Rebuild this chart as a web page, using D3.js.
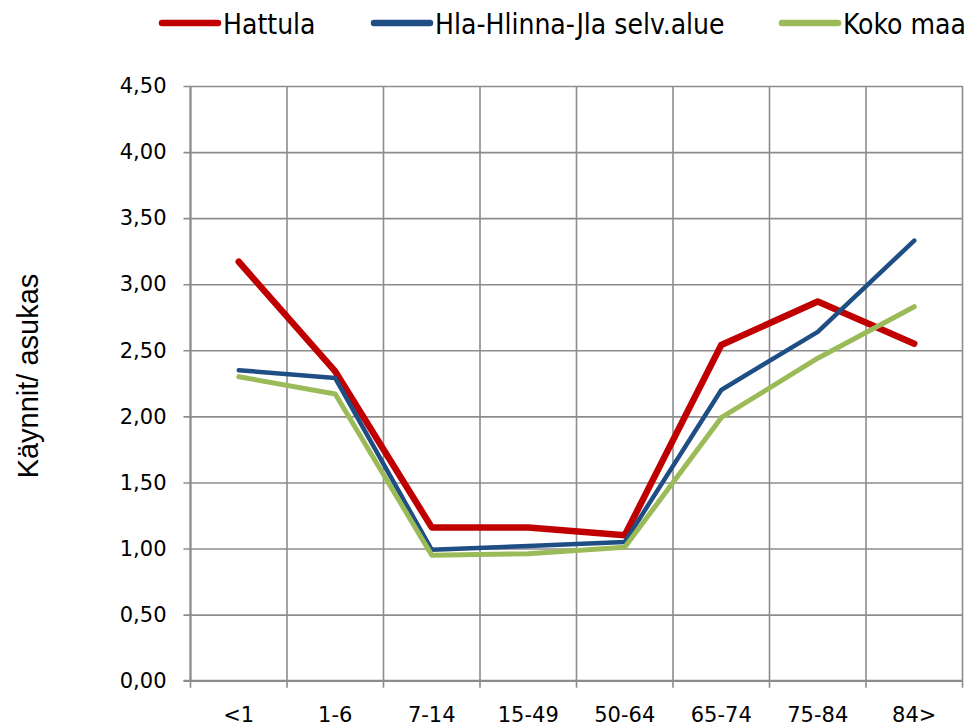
<!DOCTYPE html>
<html>
<head>
<meta charset="utf-8">
<script src="https://cdn.jsdelivr.net/npm/d3@7"></script>
<style>
  body { margin: 0; background: #fff; }
  svg { display: block; }
</style>
</head>
<body>
<div id="chart"></div>
<script>
// ---------------- Data ----------------
const categories = ["<1", "1-6", "7-14", "15-49", "50-64", "65-74", "75-84", "84>"];
const hattula = [3.17, 2.34, 1.16, 1.16, 1.10, 2.54, 2.87, 2.55];
const hlaHlinnaJla = [2.35, 2.29, 0.99, 1.02, 1.05, 2.20, 2.64, 3.33];
const kokoMaa = [2.30, 2.17, 0.95, 0.96, 1.01, 1.99, 2.44, 2.83];
const seriesNames = ["Hattula", "Hla-Hlinna-Jla selv.alue", "Koko maa"];
const yTicks = [0, 0.5, 1, 1.5, 2, 2.5, 3, 3.5, 4, 4.5];

const series = [
    { name: seriesNames[0], values: hattula, color: "#C00000", width: 6.5 },
    { name: seriesNames[1], values: hlaHlinnaJla, color: "#1F4E85", width: 4.5 },
    { name: seriesNames[2], values: kokoMaa, color: "#9BBB59", width: 5 }
];

// ---------------- Layout ----------------
const width = 974, height = 726;
const plot = { left: 190.5, right: 962.5, top: 86, bottom: 680.7 };
const gridColor = "#8c8c8c";

const svg = d3.select("#chart").append("svg")
    .attr("width", width)
    .attr("height", height);

const x = d3.scaleBand().domain(categories).range([plot.left, plot.right]).padding(0);
const y = d3.scaleLinear().domain([0, 4.5]).range([plot.bottom, plot.top]);

// Horizontal grid lines + y axis
const yAxis = d3.axisLeft(y)
    .tickValues(yTicks)
    .tickSize(plot.left - plot.right)
    .tickPadding(24)
    .tickFormat(d => d3.format(".2f")(d).replace(".", ","));

const gy = svg.append("g")
    .attr("transform", `translate(${plot.right},0)`)
    .call(yAxis);
gy.select(".domain").remove();
gy.selectAll(".tick line").attr("stroke", gridColor).attr("stroke-width", 1.6)
    .attr("x1", 0).attr("x2", plot.left - plot.right - 7);
gy.selectAll(".tick text")
    .attr("x", plot.left - plot.right - 24)
    .attr("fill", "#000")
    .style("font-family", "'DejaVu Sans', sans-serif")
    .style("font-size", "21px");

// Vertical grid lines at category boundaries
const boundaries = categories.map(c => x(c)).concat([plot.right]);
svg.append("g").selectAll("line")
    .data(boundaries)
    .join("line")
    .attr("x1", d => d).attr("x2", d => d)
    .attr("y1", plot.top).attr("y2", plot.bottom + 7)
    .attr("stroke", gridColor)
    .attr("stroke-width", 1.6);

// x axis labels
const xAxis = d3.axisBottom(x).tickSize(0).tickPadding(26);
const gx = svg.append("g")
    .attr("transform", `translate(0,${plot.bottom})`)
    .call(xAxis);
gx.select(".domain").remove();
gx.selectAll(".tick text")
    .attr("fill", "#000")
    .style("font-family", "'DejaVu Sans', sans-serif")
    .style("font-size", "21px");

// Axis lines
svg.append("line")
    .attr("x1", plot.left).attr("x2", plot.left)
    .attr("y1", plot.top).attr("y2", plot.bottom)
    .attr("stroke", gridColor).attr("stroke-width", 2);
svg.append("line")
    .attr("x1", plot.left - 7).attr("x2", plot.right)
    .attr("y1", plot.bottom).attr("y2", plot.bottom)
    .attr("stroke", gridColor).attr("stroke-width", 2);

// ---------------- Lines ----------------
const line = d3.line()
    .x((d, i) => x(categories[i]) + x.bandwidth() / 2)
    .y(d => y(d));

svg.append("g").selectAll("path")
    .data(series)
    .join("path")
    .attr("fill", "none")
    .attr("stroke", d => d.color)
    .attr("stroke-width", d => d.width)
    .attr("stroke-linecap", "round")
    .attr("stroke-linejoin", "round")
    .attr("d", d => line(d.values));

// ---------------- Y axis title ----------------
svg.append("text")
    .attr("transform", `translate(38,376) rotate(-90)`)
    .attr("text-anchor", "middle")
    .style("font-family", "'Liberation Sans', Arial, sans-serif")
    .style("font-size", "29px")
    .attr("fill", "#000")
    .text("Käynnit/ asukas");

// ---------------- Legend ----------------
const legendX = [162, 374, 782];
const legend = svg.append("g").selectAll("g")
    .data(series)
    .join("g")
    .attr("transform", (d, i) => `translate(${legendX[i]},23)`);

legend.append("line")
    .attr("x1", 0).attr("x2", 56)
    .attr("stroke", d => d.color)
    .attr("stroke-width", 6.5)
    .attr("stroke-linecap", "round");

legend.append("text")
    .attr("x", 61)
    .attr("y", 11)
    .style("font-family", "'DejaVu Sans Condensed', 'DejaVu Sans', sans-serif")
    .style("font-stretch", "condensed")
    .style("font-size", "28px")
    .attr("fill", "#000")
    .text(d => d.name);
</script>
</body>
</html>
